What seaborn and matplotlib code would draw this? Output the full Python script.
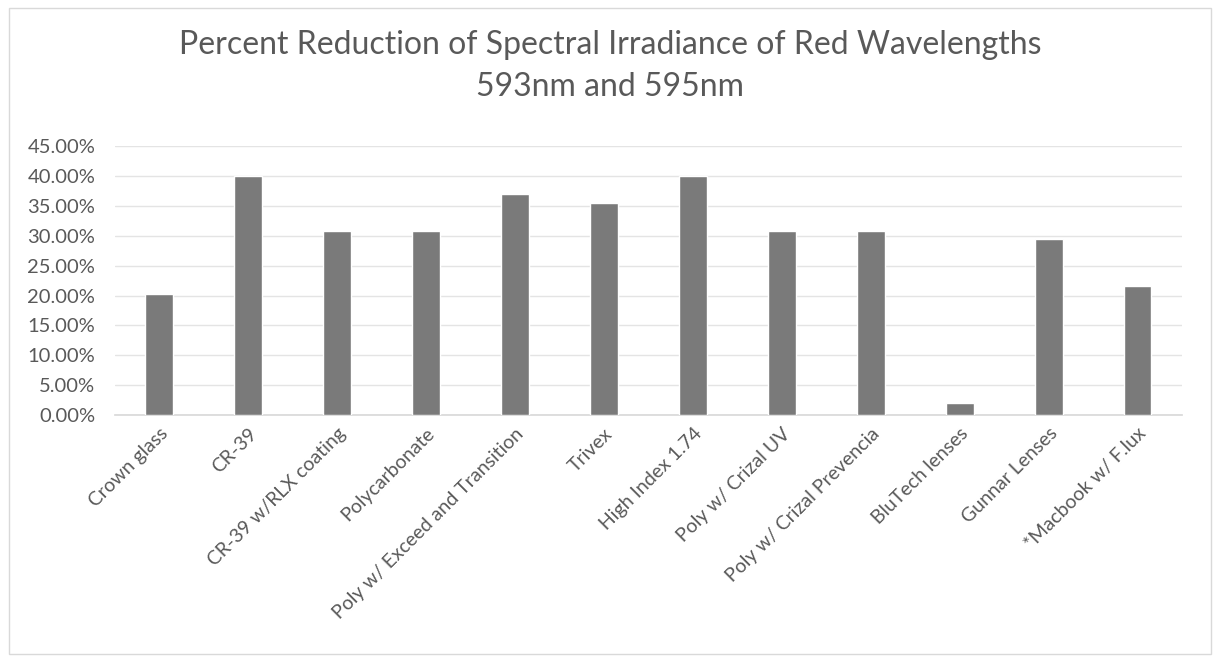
import matplotlib.pyplot as plt
import seaborn as sns
import pandas as pd
from matplotlib.patches import Rectangle
from matplotlib.ticker import PercentFormatter

lenses = [
    "Crown glass", "CR-39", "CR-39 w/RLX coating", "Polycarbonate",
    "Poly w/ Exceed and Transition", "Trivex", "High Index 1.74",
    "Poly w/ Crizal UV", "Poly w/ Crizal Prevencia", "BluTech lenses",
    "Gunnar Lenses", "*Macbook w/ F.lux",
]
reduction = [20.2, 40.0, 30.9, 30.9, 37.0, 35.5, 40.0, 30.9, 30.9, 2.0, 29.4, 21.6]
y_ticks = [0, 5, 10, 15, 20, 25, 30, 35, 40, 45]

df = pd.DataFrame({"lens": lenses, "reduction": reduction})

sns.set_theme(style="white")
plt.rcParams["font.family"] = ["Lato", "DejaVu Sans"]
text_grey = "#595959"

fig = plt.figure(figsize=(12.2, 6.62), dpi=100)
ax = fig.add_axes([0.094, 0.373, 0.875, 0.406])

sns.barplot(data=df, x="lens", y="reduction", color="#7a7a7a", width=0.31,
            saturation=1, ax=ax, zorder=3)

ax.set_ylim(0, 45)
ax.set_yticks(y_ticks)
ax.yaxis.set_major_formatter(PercentFormatter(decimals=2))
ax.grid(axis="y", color="#e4e4e4", linewidth=1, zorder=0)
ax.set_xlim(-0.5, len(lenses) - 0.5)
for side in ["top", "right", "left"]:
    ax.spines[side].set_visible(False)
ax.spines["bottom"].set_color("#d9d9d9")
ax.set_xlabel("")
ax.set_ylabel("")
ax.tick_params(axis="y", labelsize=14.5, labelcolor=text_grey, length=0, pad=14)
ax.tick_params(axis="x", labelsize=14, labelcolor=text_grey, length=0, pad=7)
plt.setp(ax.get_xticklabels(), rotation=45, ha="right", rotation_mode="anchor")

fig.text(0.5, 0.955, "Percent Reduction of Spectral Irradiance of Red Wavelengths\n593nm and 595nm",
         ha="center", va="top", fontsize=23, color=text_grey, linespacing=1.5)

# chart area frame
fig.patches.append(Rectangle((0.007, 0.012), 0.986, 0.976, transform=fig.transFigure,
                             fill=False, edgecolor="#d9d9d9", linewidth=1))

fig.savefig("out.png", dpi=100)
